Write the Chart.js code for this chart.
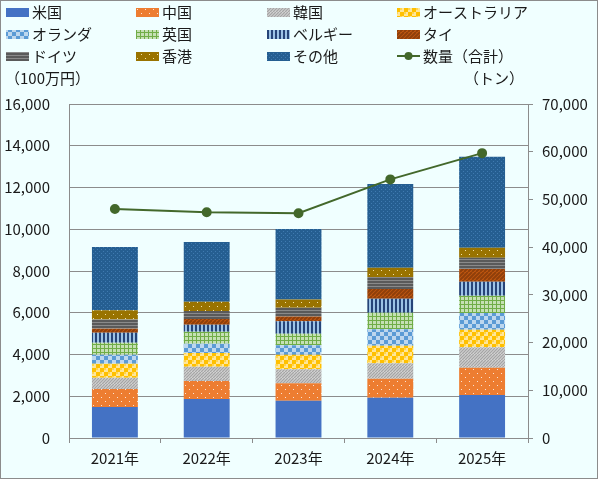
<!DOCTYPE html>
<html lang="ja">
<head>
<meta charset="UTF-8">
<title>輸出額の推移</title>
<script src="https://cdn.jsdelivr.net/npm/chart.js"></script>
<style>
    body { margin: 0; padding: 0; background: #ffffff; }
    #wrap { width: 598px; height: 479px; }
</style>
</head>
<body>
<div id="wrap"><canvas id="chart" width="598" height="479"></canvas></div>
<script>
// years on the x axis
var years = ['2021年', '2022年', '2023年', '2024年', '2025年'];

// value by destination (100万円), bottom to top of each stack
var usa       = [1485, 1870, 1790, 1930, 2060];
var china     = [860, 860, 830, 910, 1310];
var korea     = [545, 685, 670, 735, 975];
var australia = [670, 655, 700, 845, 845];
var holland   = [430, 445, 450, 785, 800];
var uk        = [570, 575, 560, 800, 830];
var belgium   = [480, 335, 590, 670, 670];
var thai      = [190, 270, 225, 465, 605];
var germany   = [450, 385, 430, 575, 540];
var hongkong  = [445, 445, 385, 445, 480];
var others    = [3020, 2860, 3385, 4010, 4360];

// total volume (tonnes), right axis
var volume = [48000, 47300, 47100, 54200, 59700];

var FONT = '"Noto Sans CJK JP", "Noto Sans", sans-serif';

// small repeating fills for the stacked bars
function pattern(size, bg, draw) {
    var c = document.createElement('canvas');
    c.width = size; c.height = size;
    var g = c.getContext('2d');
    g.fillStyle = bg;
    g.fillRect(0, 0, size, size);
    draw(g, size);
    return document.getElementById('chart').getContext('2d').createPattern(c, 'repeat');
}

var fills = {
    usa: '#4472C4',
    china: pattern(8, '#ED7D31', function(g) {
        g.fillStyle = '#FBE3D3';
        g.fillRect(1, 1, 1, 1);
        g.fillRect(5, 5, 1, 1);
    }),
    korea: pattern(6, '#E2E2E2', function(g) {
        g.strokeStyle = '#A5A5A5';
        g.lineWidth = 1.5;
        for (var i = -6; i <= 12; i += 3) {
            g.beginPath(); g.moveTo(i, 6); g.lineTo(i + 6, 0); g.stroke();
        }
    }),
    australia: pattern(8, '#FFC000', function(g) {
        g.fillStyle = '#FFE699';
        g.fillRect(0, 0, 4, 4);
        g.fillRect(4, 4, 4, 4);
        g.fillStyle = '#FFD54F';
        g.fillRect(0, 0, 2, 2);
        g.fillRect(4, 4, 2, 2);
    }),
    holland: pattern(8, '#5B9BD5', function(g) {
        g.fillStyle = '#BDD7EE';
        g.fillRect(0, 0, 4, 4);
        g.fillRect(4, 4, 4, 4);
    }),
    uk: pattern(4, '#C5E0B4', function(g) {
        g.fillStyle = '#70AD47';
        g.fillRect(0, 0, 4, 1);
        g.fillRect(0, 0, 1, 4);
    }),
    belgium: pattern(4, '#264478', function(g) {
        g.fillStyle = '#9DC3E6';
        g.fillRect(1, 0, 2, 4);
    }),
    thai: pattern(8, '#C55A11', function(g) {
        g.strokeStyle = '#8F3F0B';
        g.lineWidth = 2;
        for (var i = -8; i <= 16; i += 4) {
            g.beginPath(); g.moveTo(i, 8); g.lineTo(i + 8, 0); g.stroke();
        }
    }),
    germany: pattern(3, '#5A5A5A', function(g) {
        g.fillStyle = '#8A8A8A';
        g.fillRect(0, 1, 3, 1);
    }),
    hongkong: pattern(8, '#997300', function(g) {
        g.fillStyle = '#F2E2A8';
        g.fillRect(1, 2, 1, 1);
        g.fillRect(5, 6, 1, 1);
    }),
    others: pattern(4, '#255E91', function(g) {
        g.fillStyle = '#3F7AB0';
        g.fillRect(1, 1, 1, 1);
        g.fillRect(3, 3, 1, 1);
    })
};

function bar(label, data, fill) {
    return {
        type: 'bar', label: label, data: data, yAxisID: 'y',
        backgroundColor: fill, borderWidth: 0, order: 1,
        barPercentage: 0.5, categoryPercentage: 1
    };
}

var datasets = [
    bar('米国', usa, fills.usa),
    bar('中国', china, fills.china),
    bar('韓国', korea, fills.korea),
    bar('オーストラリア', australia, fills.australia),
    bar('オランダ', holland, fills.holland),
    bar('英国', uk, fills.uk),
    bar('ベルギー', belgium, fills.belgium),
    bar('タイ', thai, fills.thai),
    bar('ドイツ', germany, fills.germany),
    bar('香港', hongkong, fills.hongkong),
    bar('その他', others, fills.others),
    {
        type: 'line', label: '数量（合計）', data: volume, yAxisID: 'y2',
        borderColor: '#43682B', backgroundColor: '#43682B', borderWidth: 2,
        pointRadius: 4, pointHoverRadius: 4, order: 0
    }
];

// background, frame, grid-style legend and the two unit captions
var decor = {
    id: 'decor',
    beforeDraw: function(chart) {
        var c = chart.ctx;
        c.save();
        c.fillStyle = '#F0FFFF';
        c.fillRect(0, 0, chart.width, chart.height);
        c.strokeStyle = '#8C8C8C';
        c.lineWidth = 1;
        c.strokeRect(0.5, 0.5, chart.width - 1, chart.height - 1);
        c.restore();
    },
    afterDraw: function(chart) {
        var c = chart.ctx;
        var cols = [6, 136, 267, 397];
        var rows = [12, 34, 56];
        c.save();
        c.font = '15px ' + FONT;
        c.textBaseline = 'middle';
        c.fillStyle = '#1a1a1a';
        chart.data.datasets.forEach(function(ds, i) {
            var x = cols[i % 4], y = rows[Math.floor(i / 4)];
            if (ds.type === 'line') {
                c.strokeStyle = ds.borderColor;
                c.lineWidth = 2;
                c.beginPath(); c.moveTo(x, y); c.lineTo(x + 23, y); c.stroke();
                c.fillStyle = ds.backgroundColor;
                c.beginPath(); c.arc(x + 11.5, y, 4, 0, Math.PI * 2); c.fill();
            } else {
                c.fillStyle = ds.backgroundColor;
                c.fillRect(x, y - 4, 23, 9);
            }
            c.fillStyle = '#1a1a1a';
            c.textAlign = 'left';
            c.fillText(ds.label, x + 26, y);
        });
        c.fillText('（100万円）', 5, 78);
        c.fillText('（トン）', 464, 78);
        c.restore();
    }
};

new Chart(document.getElementById('chart'), {
    data: { labels: years, datasets: datasets },
    plugins: [decor],
    options: {
        responsive: false,
        animation: false,
        layout: { padding: { top: 104, left: 0, right: 0, bottom: 0 } },
        plugins: {
            legend: { display: false },
            tooltip: { enabled: false }
        },
        scales: {
            x: {
                stacked: true,
                afterFit: function(s) { s.height = 41; },
                grid: { offset: true, drawOnChartArea: false, drawTicks: true, tickLength: 5, color: '#8C8C8C' },
                border: { color: '#8C8C8C' },
                ticks: { color: '#1a1a1a', padding: 6, font: { family: FONT, size: 15 } }
            },
            y: {
                stacked: true,
                position: 'left',
                min: 0, max: 16000,
                afterFit: function(s) { s.width = 69; },
                grid: { color: '#8C8C8C', drawTicks: false },
                border: { color: '#8C8C8C' },
                ticks: {
                    stepSize: 2000, padding: 19, color: '#1a1a1a',
                    font: { family: FONT, size: 15 },
                    callback: function(v) { return v.toLocaleString('en-US'); }
                }
            },
            y2: {
                position: 'right',
                min: 0, max: 70000,
                afterFit: function(s) { s.width = 70; },
                grid: { drawOnChartArea: false, drawTicks: true, tickLength: 5, color: '#8C8C8C' },
                border: { color: '#8C8C8C' },
                ticks: {
                    stepSize: 10000, padding: 9, color: '#1a1a1a',
                    font: { family: FONT, size: 15 },
                    callback: function(v) { return v.toLocaleString('en-US'); }
                }
            }
        }
    }
});
</script>
</body>
</html>
